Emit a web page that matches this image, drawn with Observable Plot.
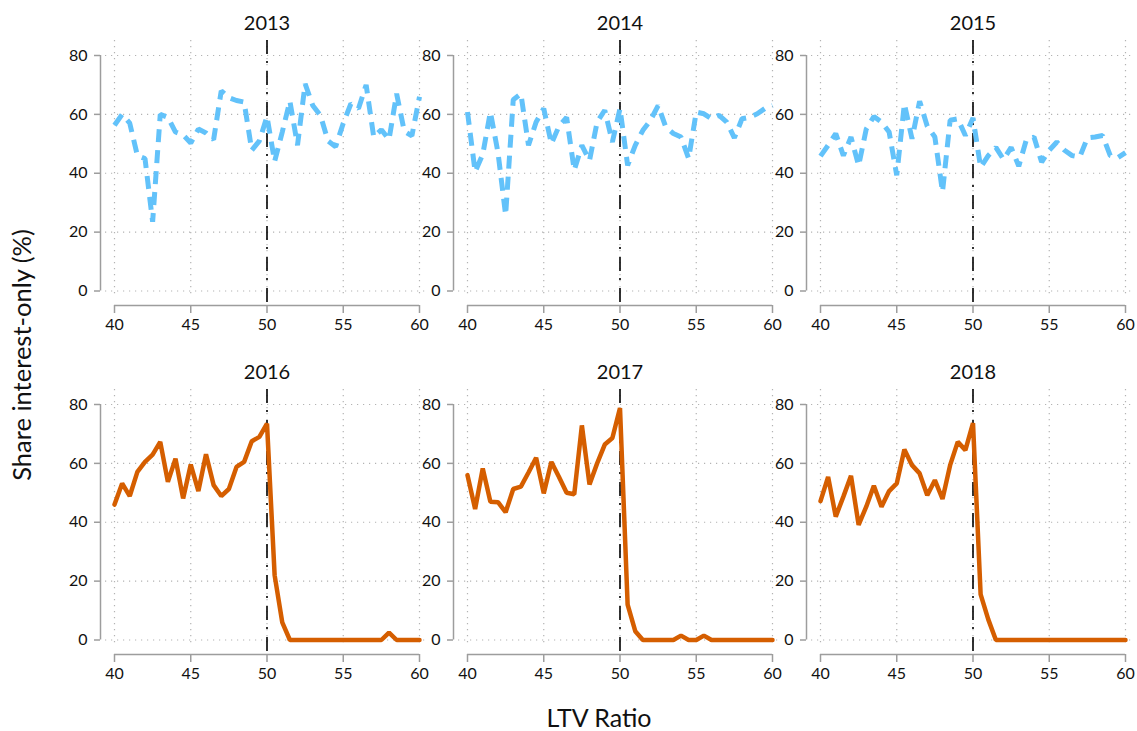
<!DOCTYPE html>
<html>
<head>
<meta charset="utf-8">
<script src="https://cdn.jsdelivr.net/npm/d3@7"></script>
<script src="https://cdn.jsdelivr.net/npm/@observablehq/plot@0.6"></script>
<style>
  body { margin: 0; background: #fff; }
  #wrap { position: relative; width: 1137px; height: 731px; font-family: Lato, "Noto Sans", sans-serif; color: #111; }
  #ytitle { position: absolute; left: 22px; top: 355px; transform: translate(-50%, -50%) rotate(-90deg); font-size: 25.5px; line-height: 1; white-space: nowrap; }
  #xtitle { position: absolute; left: 599px; top: 717px; transform: translate(-50%, -50%); font-size: 25px; line-height: 1; white-space: nowrap; }
</style>
</head>
<body>
<div id="wrap">
  <div id="chart"></div>
  <div id="ytitle">Share interest-only (%)</div>
  <div id="xtitle">LTV Ratio</div>
</div>
<script>
// ---- data ----
const years = [2013, 2014, 2015, 2016, 2017, 2018];
const ltv = [40, 40.5, 41, 41.5, 42, 42.5, 43, 43.5, 44, 44.5, 45, 45.5, 46, 46.5, 47, 47.5, 48, 48.5, 49, 49.5,
             50, 50.5, 51, 51.5, 52, 52.5, 53, 53.5, 54, 54.5, 55, 55.5, 56, 56.5, 57, 57.5, 58, 58.5, 59, 59.5, 60];
const s2013 = [56.3, 60, 57, 46, 45, 23.5, 60, 59, 54, 53, 50.3, 55, 53.7, 51.4, 68, 65.7, 64.7, 64.2, 47.8, 51,
               59.3, 44, 54, 64.5, 49.5, 70.4, 63, 59.7, 51, 49, 57, 63.6, 62, 70, 52.3, 54.8, 51.4, 67, 54.3, 52.7, 66];
const s2014 = [60.8, 40.5, 46.4, 60.8, 47, 25.8, 65, 67, 49.5, 57.4, 62, 50, 56, 59, 41, 49.5, 44.3, 57.4, 61.4, 50.6,
               62, 42.7, 49.5, 54.6, 58, 63, 55.7, 53.5, 52.3, 45, 60.8, 60.2, 58.5, 59.7, 57.4, 52, 58.5, 59, 60.2, 62, 63];
const s2015 = [45.8, 49.5, 53.5, 46, 52.3, 42.6, 55, 59.3, 57.4, 54, 39.3, 63.6, 51.7, 64.5, 56, 52.3, 33.7, 58, 58.5, 52.8,
               58.8, 42, 46, 48.8, 44.7, 48.8, 42.4, 51.4, 52.3, 43.8, 47.8, 50.6, 47.8, 46, 45.5, 52, 52.3, 52.8, 46, 45.3, 47];
const s2016 = [46, 53.2, 48.9, 57.1, 60.5, 63, 67.3, 53.7, 61.6, 48.1, 59.6, 50.6, 63.1, 52.6, 48.9, 51.3, 58.8, 60.5, 67.5, 69,
               73.5, 22, 6, 0, 0, 0, 0, 0, 0, 0, 0, 0, 0, 0, 0, 0, 2.5, 0, 0, 0, 0];
const s2017 = [56, 44.5, 58.3, 47, 46.8, 43.4, 51.3, 52.1, 56.9, 61.9, 49.8, 60.5, 55.4, 50, 49.5, 72.9, 52.8, 60, 66.4, 68.6,
               78.8, 12, 3, 0, 0, 0, 0, 0, 1.5, 0, 0, 1.5, 0, 0, 0, 0, 0, 0, 0, 0, 0];
const s2018 = [47.2, 55.4, 41.9, 48.7, 55.8, 39.1, 45.3, 52.4, 45.3, 50.6, 53.2, 64.7, 59.4, 56.6, 49.2, 54.3, 47.9, 59.4, 67.3, 64.5,
               73.7, 15.5, 7, 0, 0, 0, 0, 0, 0, 0, 0, 0, 0, 0, 0, 0, 0, 0, 0, 0, 0];
const xTicks = [40, 45, 50, 55, 60];
const yTicks = [0, 20, 40, 60, 80];
const xDomain = [40, 60];
const yDomain = [0, 80];
const cutoff = 50;
const firstPostYear = 2016;

// ---- build table ----
const seriesByYear = {2013: s2013, 2014: s2014, 2015: s2015, 2016: s2016, 2017: s2017, 2018: s2018};
const rows = years.flatMap((yr, i) => ltv.map((x, j) => ({
  year: yr, col: i % 3, row: Math.floor(i / 3), x, y: seriesByYear[yr][j]
})));
const panels = years.map((yr, i) => ({year: yr, col: i % 3, row: Math.floor(i / 3)}));
const pre = rows.filter(d => d.year < firstPostYear);
const post = rows.filter(d => d.year >= firstPostYear);

const axisColor = "#9d9d9d";
const gridColor = "#b3b3b3";

const chart = Plot.plot({
  width: 1137,
  height: 731,
  marginLeft: 105,
  marginRight: 3,
  marginTop: 40,
  marginBottom: 76,
  insetLeft: 9,
  insetRight: 9,
  insetTop: 15,
  insetBottom: 14.5,
  x: {domain: xDomain},
  y: {domain: yDomain},
  fx: {axis: null, paddingInner: 0.085, paddingOuter: 0},
  fy: {axis: null, paddingInner: 0.2403, paddingOuter: 0},
  style: {fontFamily: "Lato, 'Noto Sans', sans-serif", fontSize: "16px", color: "#111", background: "white"},
  marks: [
    Plot.ruleY(yTicks, {y: d => d, stroke: gridColor, strokeWidth: 1.2, strokeDasharray: "1.2,4.8"}),
    Plot.ruleX(xTicks, {x: d => d, insetBottom: 9.5, stroke: gridColor, strokeWidth: 1.2, strokeDasharray: "1.2,4.8"}),
    Plot.ruleX([cutoff], {x: d => d, stroke: "#000", strokeWidth: 1.6, strokeDasharray: "14,7,2,8"}),
    Plot.line(pre, {x: "x", y: "y", z: "year", fx: "col", fy: "row", stroke: "#62C2FA", strokeWidth: 5,
      strokeDasharray: "13,8", strokeLinecap: "butt", strokeLinejoin: "miter"}),
    Plot.line(post, {x: "x", y: "y", z: "year", fx: "col", fy: "row", stroke: "#D55E00", strokeWidth: 4.5,
      strokeLinejoin: "miter"}),
    Plot.ruleY([yDomain[0]], {y: d => d, x1: xDomain[0], x2: xDomain[1], dy: 14.5, stroke: axisColor, strokeWidth: 1.5}),
    Plot.ruleX([xDomain[0]], {x: d => d, y1: yDomain[0], y2: yDomain[1], dx: -14, stroke: axisColor, strokeWidth: 1.5}),
    Plot.axisX(xTicks, {anchor: "bottom", tickSize: 8, tickPadding: 5, facetAnchor: null, stroke: axisColor,
      strokeWidth: 1.5, fill: "#111", label: null, fontSize: 16}),
    Plot.axisY(yTicks, {anchor: "left", tickSize: 6, tickPadding: 7, dx: -5, facetAnchor: null, stroke: axisColor,
      strokeWidth: 1.5, fill: "#111", label: null, fontSize: 16}),
    Plot.text(panels, {fx: "col", fy: "row", x: () => cutoff, text: d => String(d.year), frameAnchor: "top",
      lineAnchor: "middle", dy: -17, fontSize: 20, fill: "#111"})
  ]
});
document.getElementById("chart").appendChild(chart);
</script>
</body>
</html>
